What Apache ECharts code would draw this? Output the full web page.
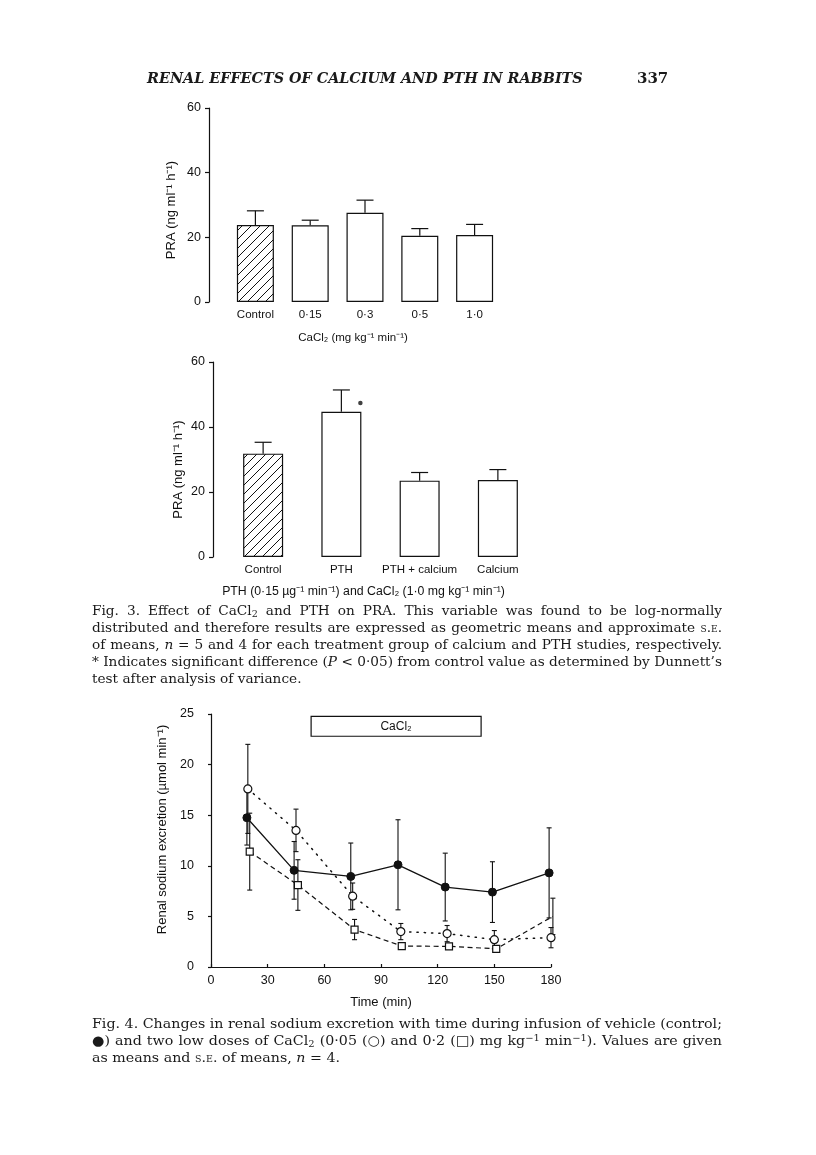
<!DOCTYPE html>
<html><head><meta charset="utf-8">
<script src="https://cdn.jsdelivr.net/npm/echarts@6/dist/echarts.min.js"></script>
<style>
html,body{margin:0;padding:0;background:#fff;}
#chart{position:absolute;left:0;top:0;width:816px;height:1155px;}
.txt{position:absolute;font-family:"DejaVu Serif",serif;color:#1a1a1a;white-space:nowrap;}
.cap{left:92px;line-height:17px;height:17px;font-size:13.5px;transform-origin:0 50%;}
.sc{font-variant:small-caps;}
sub{font-size:0.7em;vertical-align:-0.25em;line-height:0;}
sup{font-size:0.7em;vertical-align:0.45em;line-height:0;}
</style></head><body>
<div id="chart"></div>
<div id="head" class="txt" style="left:147px;top:68px;font-weight:bold;font-style:italic;font-size:15px;line-height:20px;">RENAL EFFECTS OF CALCIUM AND PTH IN RABBITS</div>
<div id="page" class="txt" style="left:637px;top:68px;font-weight:bold;font-size:15px;line-height:20px;">337</div>

<div class="txt cap full g3" style="top:602px;">Fig. 3. Effect of CaCl<sub>2</sub> and PTH on PRA. This variable was found to be log-normally</div>
<div class="txt cap full g3" style="top:619px;">distributed and therefore results are expressed as geometric means and approximate <span class="sc">s.e.</span></div>
<div class="txt cap full g3" style="top:636px;">of means, <i>n</i> = 5 and 4 for each treatment group of calcium and PTH studies, respectively.</div>
<div class="txt cap full g3" style="top:653px;">* Indicates significant difference (<i>P</i> &lt; 0·05) from control value as determined by Dunnett’s</div>
<div class="txt cap part g3" style="top:670px;">test after analysis of variance.</div>

<div class="txt cap full g4" style="top:1015px;">Fig. 4. Changes in renal sodium excretion with time during infusion of vehicle (control;</div>
<div class="txt cap full g4" style="top:1032px;">●) and two low doses of CaCl<sub>2</sub> (0·05 (○) and 0·2 (□) mg kg<sup>−1</sup> min<sup>−1</sup>). Values are given</div>
<div class="txt cap part g4" style="top:1049px;">as means and <span class="sc">s.e.</span> of means, <i>n</i> = 4.</div>

<script>
// ---------- data ----------
var cat1 = ['Control', '0·15', '0·3', '0·5', '1·0'];
var pra1Mean = [23.8, 23.7, 27.6, 20.5, 20.7];
var pra1SE = [4.4, 1.6, 3.9, 2.2, 3.3];

var cat2 = ['Control', 'PTH', 'PTH + calcium', 'Calcium'];
var pra2Mean = [31.8, 44.7, 23.5, 23.7];
var pra2SE = [3.5, 6.7, 2.5, 3.2];
var sigCat = 'PTH';
var sigValue = 47.4;

var yTicks1 = [0, 20, 40, 60];
var timeTicks = [0, 30, 60, 90, 120, 150, 180];
var naTicks = [0, 5, 10, 15, 20, 25];

var ctrlX = [19, 44, 74, 99, 124, 149, 179];
var ctrlY = [14.75, 9.55, 8.95, 10.1, 7.9, 7.4, 9.3];
var ctrlSE = [2.7, 2.85, 3.3, 4.45, 3.35, 3.0, 4.45];

var lowX = [19.5, 45, 75, 100.5, 125, 150, 180];
var lowY = [17.6, 13.5, 7.0, 3.5, 3.3, 2.7, 2.9];
var lowSE = [4.4, 2.1, 1.3, 0.8, 0.8, 0.9, 1.0];

var highX = [20.5, 46, 76, 101, 126, 151, 181];
var highY = [11.4, 8.1, 3.7, 2.07, 2.04, 1.8, 5.0];
var highSE = [3.8, 2.5, 1.0, 0.2, 0.2, 0.2, 1.8];

var infusionStart = 53, infusionEnd = 143;
var infusionBoxTop = 24.76, infusionBoxBottom = 22.8;

// ---------- fit header & captions ----------
(function(){
  var c = document.createElement('canvas').getContext('2d');
  c.font = 'bold italic 15px "DejaVu Serif"';
  var w = c.measureText('RENAL EFFECTS OF CALCIUM AND PTH IN RABBITS').width;
  document.getElementById('head').style.fontSize = (15 * 436 / w).toFixed(2) + 'px';
  var target = 630;
  ['g3', 'g4'].forEach(function (g) {
    var els = document.querySelectorAll('.cap.' + g);
    var maxW = 0, ws = [];
    for (var i = 0; i < els.length; i++) {
      var wd = els[i].getBoundingClientRect().width; ws.push(wd);
      if (els[i].classList.contains('full') && wd > maxW) maxW = wd;
    }
    var k = target / maxW;
    for (var j = 0; j < els.length; j++) {
      var el = els[j];
      el.style.transform = 'scaleX(' + k.toFixed(4) + ')';
      if (el.classList.contains('full')) {
        var spaces = (el.textContent.match(/ /g) || []).length;
        var extra = (target / k - ws[j]) / spaces;
        if (extra > 0.01) el.style.wordSpacing = extra.toFixed(3) + 'px';
      }
    }
  });
})();

// ---------- hatch pattern ----------
var hatch = document.createElement('canvas');
var s = 9; hatch.width = s; hatch.height = s;
var hc = hatch.getContext('2d');
hc.fillStyle = '#fff'; hc.fillRect(0, 0, s, s);
hc.strokeStyle = '#111'; hc.lineWidth = 1;
hc.beginPath();
hc.moveTo(0, s); hc.lineTo(s, 0);
hc.moveTo(-1, 1); hc.lineTo(1, -1);
hc.moveTo(s - 1, s + 1); hc.lineTo(s + 1, s - 1);
hc.stroke();

var INK = '#111';
var FONT = '"Liberation Sans", Arial, sans-serif';
function tx(size) { return {color: INK, fontSize: size, fontFamily: FONT}; }

function barItems(means) {
  return means.map(function (v, i) {
    return {value: v, itemStyle: {color: i === 0 ? {image: hatch, repeat: 'repeat'} : '#fff',
      borderColor: INK, borderWidth: 1.2}};
  });
}
function upperErr(capW) {
  return function (params, api) {
    var i = api.value(0), m = api.value(1), se = api.value(2);
    var a = api.coord([i, m]), b = api.coord([i, m + se]);
    var st = {stroke: INK, lineWidth: 1.2};
    return {type: 'group', children: [
      {type: 'line', shape: {x1: a[0], y1: a[1], x2: b[0], y2: b[1]}, style: st},
      {type: 'line', shape: {x1: b[0] - capW / 2, y1: b[1], x2: b[0] + capW / 2, y2: b[1]}, style: st}
    ]};
  };
}
function bothErr(capW) {
  return function (params, api) {
    var x = api.value(0), y = api.value(1), se = api.value(2);
    var hi = api.coord([x, y + se]), lo = api.coord([x, y - se]);
    var st = {stroke: INK, lineWidth: 1.1};
    return {type: 'group', children: [
      {type: 'line', shape: {x1: hi[0], y1: hi[1], x2: lo[0], y2: lo[1]}, style: st},
      {type: 'line', shape: {x1: hi[0] - capW / 2, y1: hi[1], x2: hi[0] + capW / 2, y2: hi[1]}, style: st},
      {type: 'line', shape: {x1: lo[0] - capW / 2, y1: lo[1], x2: lo[0] + capW / 2, y2: lo[1]}, style: st}
    ]};
  };
}
function zip3(a, b, c) { return a.map(function (v, i) { return [v, b[i], c[i]]; }); }
function zip2(a, b) { return a.map(function (v, i) { return [v, b[i]]; }); }
function idxData(means, se) { return means.map(function (v, i) { return [i, v, se[i]]; }); }

function catAxis(grid, data, name, gap, shift, nameSize) {
  return {type: 'category', gridIndex: grid, data: data,
    axisLine: {show: false}, axisTick: {show: false},
    axisLabel: Object.assign({margin: 7, interval: 0}, tx(11.5)),
    name: name, nameLocation: 'middle', nameGap: gap,
    nameTextStyle: Object.assign({padding: [0, shift, 0, 0]}, tx(nameSize))};
}
function valAxis(grid, ticks, offset, name, gap, lblSize, nameSize, namePad) {
  return {type: 'value', gridIndex: grid, min: ticks[0], max: ticks[ticks.length - 1],
    interval: ticks[1] - ticks[0], offset: offset,
    axisLine: {show: true, lineStyle: {color: INK, width: 1.2}},
    axisTick: {show: true, length: 4, lineStyle: {color: INK, width: 1.2}},
    splitLine: {show: false},
    axisLabel: Object.assign({margin: 8}, tx(lblSize)),
    name: name, nameLocation: 'middle', nameGap: gap, nameRotate: 90,
    nameTextStyle: Object.assign({padding: namePad}, tx(nameSize))};
}

var chart = echarts.init(document.getElementById('chart'));
chart.setOption({
  animation: false,
  grid: [
    {left: 228, top: 108, width: 274, height: 194},
    {left: 224, top: 362, width: 313, height: 195},
    {left: 211, top: 714, width: 340, height: 253}
  ],
  xAxis: [
    catAxis(0, cat1, 'CaCl₂ (mg kg⁻¹ min⁻¹)', 30, 24, 11.5),
    catAxis(1, cat2, 'PTH (0·15 µg⁻¹ min⁻¹) and CaCl₂ (1·0 mg kg⁻¹ min⁻¹)', 29, 34, 12.3),
    {type: 'value', gridIndex: 2, min: timeTicks[0], max: timeTicks[timeTicks.length - 1],
      interval: timeTicks[1] - timeTicks[0],
      axisLine: {show: true, lineStyle: {color: INK, width: 1.2}},
      axisTick: {show: true, length: 3, inside: true, lineStyle: {color: INK, width: 1.2}},
      splitLine: {show: false},
      axisLabel: Object.assign({margin: 7}, tx(12.5)),
      name: 'Time (min)', nameLocation: 'middle', nameGap: 29, nameTextStyle: tx(13)}
  ],
  yAxis: [
    valAxis(0, yTicks1, 19, 'PRA (ng ml⁻¹ h⁻¹)', 31, 12.5, 13, [0, 10, 0, 0]),
    valAxis(1, yTicks1, 11, 'PRA (ng ml⁻¹ h⁻¹)', 28, 12.5, 13, [0, 20, 0, 0]),
    Object.assign(valAxis(2, naTicks, 9, 'Renal sodium excretion (µmol min⁻¹)', 33, 12.5, 13, [0, 0, 0, 22]),
      {axisTick: {show: true, length: 3, lineStyle: {color: INK, width: 1.2}}})
  ],
  series: [
    {type: 'bar', xAxisIndex: 0, yAxisIndex: 0, barWidth: 37, data: barItems(pra1Mean), z: 2},
    {type: 'custom', xAxisIndex: 0, yAxisIndex: 0, renderItem: upperErr(17),
      data: idxData(pra1Mean, pra1SE), z: 1},
    {type: 'bar', xAxisIndex: 1, yAxisIndex: 1, barWidth: 40, data: barItems(pra2Mean), z: 2},
    {type: 'custom', xAxisIndex: 1, yAxisIndex: 1, renderItem: upperErr(17),
      data: idxData(pra2Mean, pra2SE), z: 1},
    {type: 'scatter', xAxisIndex: 1, yAxisIndex: 1, symbol: 'circle', symbolSize: 4.5,
      symbolOffset: [19, 0], itemStyle: {color: INK}, data: [[sigCat, sigValue]]},

    {type: 'custom', xAxisIndex: 2, yAxisIndex: 2, renderItem: bothErr(5), data: zip3(ctrlX, ctrlY, ctrlSE), z: 1},
    {type: 'custom', xAxisIndex: 2, yAxisIndex: 2, renderItem: bothErr(5), data: zip3(lowX, lowY, lowSE), z: 1},
    {type: 'custom', xAxisIndex: 2, yAxisIndex: 2, renderItem: bothErr(5), data: zip3(highX, highY, highSE), z: 1},
    {type: 'line', xAxisIndex: 2, yAxisIndex: 2, data: zip2(ctrlX, ctrlY), z: 4,
      symbol: 'circle', symbolSize: 8,
      itemStyle: {color: INK, borderColor: INK, borderWidth: 1},
      lineStyle: {color: INK, width: 1.3, type: 'solid'},
      markArea: {silent: true,
        itemStyle: {color: '#fff', borderColor: INK, borderWidth: 1.2},
        label: {show: true, position: 'inside', formatter: 'CaCl₂', color: INK, fontSize: 12, fontFamily: FONT},
        data: [[{xAxis: infusionStart, yAxis: infusionBoxTop}, {xAxis: infusionEnd, yAxis: infusionBoxBottom}]]}},
    {type: 'line', xAxisIndex: 2, yAxisIndex: 2, data: zip2(lowX, lowY), z: 3,
      symbol: 'circle', symbolSize: 8,
      itemStyle: {color: '#fff', borderColor: INK, borderWidth: 1.2},
      lineStyle: {color: INK, width: 1.5, type: [1.3, 6], cap: 'round'}},
    {type: 'line', xAxisIndex: 2, yAxisIndex: 2, data: zip2(highX, highY), z: 3,
      symbol: 'rect', symbolSize: 7,
      itemStyle: {color: '#fff', borderColor: INK, borderWidth: 1.2},
      lineStyle: {color: INK, width: 1.2, type: [5, 3.5]}}
  ]
});
</script>
</body></html>
